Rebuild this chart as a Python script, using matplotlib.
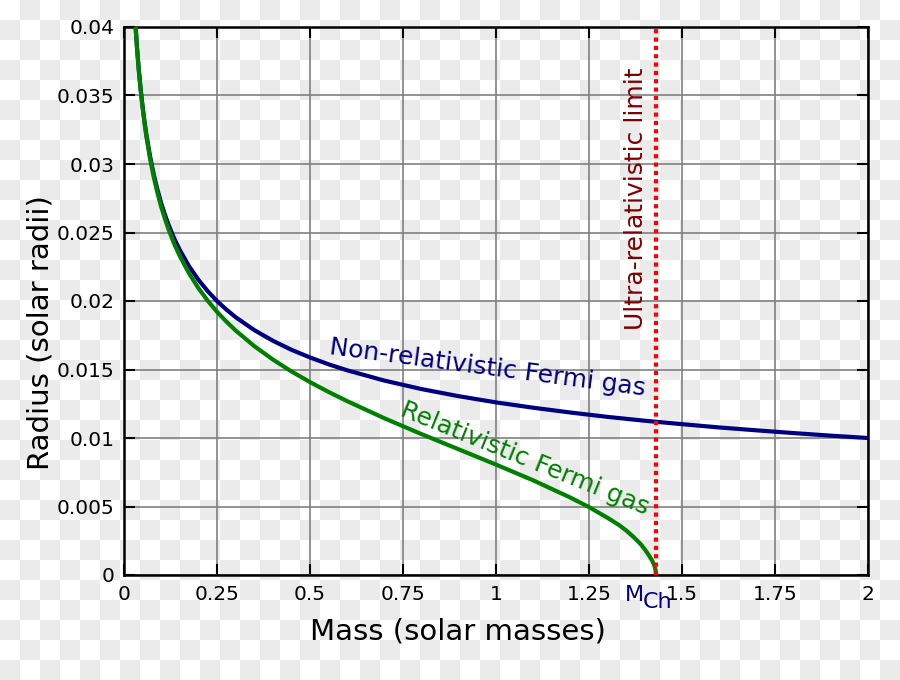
import numpy as np
import matplotlib
matplotlib.use('Agg')
import matplotlib.pyplot as plt
from matplotlib.transforms import blended_transform_factory

# Values
mass_nr = [0.03, 0.0325, 0.035, 0.0375, 0.04, 0.045, 0.05, 0.055, 0.06, 0.07, 0.08,
           0.09, 0.1, 0.11, 0.12, 0.135, 0.15, 0.175, 0.2, 0.225, 0.25, 0.275, 0.3,
           0.35, 0.4, 0.45, 0.5, 0.55, 0.6, 0.7, 0.8, 0.9, 1.0, 1.1, 1.2, 1.3, 1.4,
           1.5, 1.6, 1.7, 1.8, 1.9, 2.0]
radius_nr = [0.04055, 0.03949, 0.03852, 0.03765, 0.03684, 0.03542, 0.03420, 0.03313,
             0.03218, 0.03057, 0.02924, 0.02812, 0.02714, 0.02630, 0.02555, 0.02456,
             0.02372, 0.02253, 0.02155, 0.02072, 0.02000, 0.01938, 0.01882, 0.01788,
             0.01710, 0.01644, 0.01588, 0.01538, 0.01494, 0.01419, 0.01357, 0.01305,
             0.01260, 0.01221, 0.01186, 0.01154, 0.01126, 0.01101, 0.01077, 0.01056,
             0.01036, 0.01017, 0.01000]

mass_rel = [0.03, 0.0325, 0.035, 0.0375, 0.04, 0.045, 0.05, 0.055, 0.06, 0.07, 0.08,
            0.09, 0.1, 0.11, 0.12, 0.135, 0.15, 0.175, 0.2, 0.225, 0.25, 0.275, 0.3,
            0.35, 0.4, 0.45, 0.5, 0.55, 0.6, 0.7, 0.8, 0.9, 1.0, 1.1, 1.2, 1.25, 1.3,
            1.33, 1.35, 1.37, 1.39, 1.4, 1.41, 1.42, 1.425, 1.428, 1.429, 1.43]
radius_rel = [0.04048, 0.03941, 0.03844, 0.03756, 0.03674, 0.03531, 0.03408, 0.03299,
              0.03203, 0.03039, 0.02903, 0.02788, 0.02687, 0.02600, 0.02521, 0.02417,
              0.02328, 0.02201, 0.02094, 0.02002, 0.01921, 0.01850, 0.01785, 0.01671,
              0.01573, 0.01486, 0.01408, 0.01336, 0.01269, 0.01144, 0.01028, 0.00917,
              0.00806, 0.00691, 0.00565, 0.00496, 0.00417, 0.00366, 0.00325, 0.00277,
              0.00222, 0.00187, 0.00148, 0.00104, 0.00074, 0.00047, 0.00033, 0.0]

m_ch = 1.43

xticks = [0, 0.25, 0.5, 0.75, 1, 1.25, 1.5, 1.75, 2]
xticklabels = ['0', '0.25', '0.5', '0.75', '1', '1.25', '1.5', '1.75', '2']
yticks = [0, 0.005, 0.01, 0.015, 0.02, 0.025, 0.03, 0.035, 0.04]
yticklabels = ['0', '0.005', '0.01', '0.015', '0.02', '0.025', '0.03', '0.035', '0.04']

fig = plt.figure(figsize=(9, 6.8), dpi=100)

# checkerboard backdrop as in the reference image
h, w = 680, 900
jj, ii = np.meshgrid(np.arange(w) // 20, np.arange(h) // 20)
chk = np.where((ii + jj) % 2 == 1, 235, 255).astype(np.uint8)
fig.figimage(np.dstack([chk, chk, chk]), xo=0, yo=0, origin='upper', zorder=-10)

ax = fig.add_axes([124 / 900, 105 / 680, 744 / 900, 548 / 680])
ax.set_zorder(1)
ax.set_facecolor('none')

ax.plot(mass_nr, radius_nr, color='#000080', lw=3, zorder=3, solid_capstyle='butt')
ax.plot(mass_rel, radius_rel, color='#008000', lw=3, zorder=3, solid_capstyle='butt')
ax.plot([m_ch, m_ch], [0, 0.04], color='red', lw=3, ls=(0, (1, 1)), zorder=4)

ax.set_xlim(0, 2)
ax.set_ylim(0, 0.04)
ax.set_xticks(xticks)
ax.set_xticklabels(xticklabels)
ax.set_yticks(yticks)
ax.set_yticklabels(yticklabels)
ax.tick_params(direction='in', length=8, width=1.5, labelsize=14.5, pad=7,
               top=True, right=True)
ax.grid(True, color='#808080', lw=1.2)
for s in ax.spines.values():
    s.set_linewidth(1.8)

ax.set_xlabel('Mass (solar masses)', fontsize=21)
ax.set_ylabel('Radius (solar radii)', fontsize=21)
ax.xaxis.set_label_coords(0.449, -0.078)
ax.yaxis.set_label_coords(-0.093, 0.4416)

ax.text(0.978, 0.0151, 'Non-relativistic Fermi gas', color='#000080', fontsize=18,
        rotation=-7.5, ha='center', va='center', rotation_mode='anchor')
ax.text(1.078, 0.0085, 'Relativistic Fermi gas', color='#008000', fontsize=18,
        rotation=-22, ha='center', va='center', rotation_mode='anchor')
ax.text(1.376, 0.02745, 'Ultra-relativistic limit', color='#800000', fontsize=18,
        rotation=90, ha='center', va='center')

tr = blended_transform_factory(ax.transData, ax.transAxes)
ax.annotate('M', xy=(m_ch, 0), xycoords=tr, xytext=(-8.5, -7.5), textcoords='offset points',
            ha='right', va='top', fontsize=16, color='#000080', annotation_clip=False)
ax.annotate('Ch', xy=(m_ch, 0), xycoords=tr, xytext=(-9.5, -12), textcoords='offset points',
            ha='left', va='top', fontsize=16, color='#000080', annotation_clip=False)

fig.savefig('out.png', dpi=100)
